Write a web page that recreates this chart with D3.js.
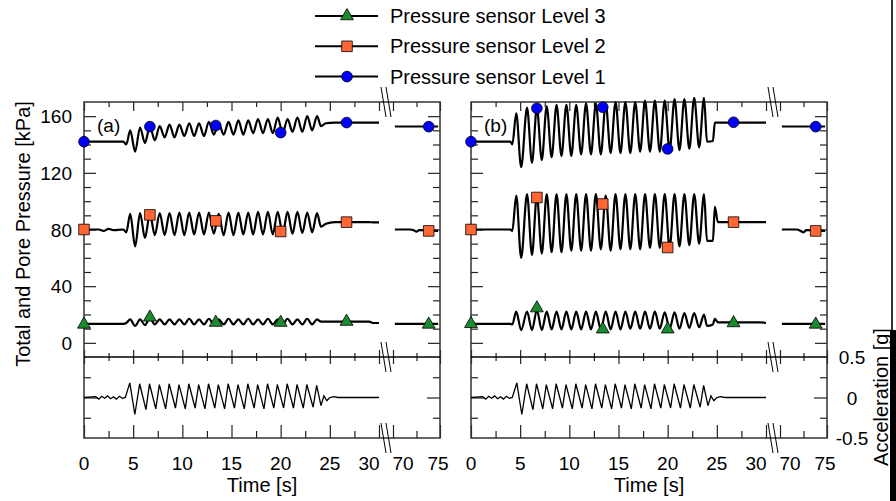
<!DOCTYPE html>
<html>
<head>
<meta charset="utf-8">
<script src="https://cdn.jsdelivr.net/npm/d3@7"></script>
<style>
    body { margin: 0; background: #fff; }
    svg { font-family: "Liberation Sans", Arial, sans-serif; }
</style>
</head>
<body>
<div id="chart"></div>
<script>
// Marker times (s), same for every sensor
var markerTimes = [0, 6.7, 13.4, 20.0, 26.7, 73.8];

// Panel (a) pressure records [kPa]
var timeA = [0, 1.5, 2.0, 2.5, 3.0, 4.0, 4.3, 4.7, 5.2, 5.7, 6.2, 6.7, 7.2, 7.7, 8.2, 8.7, 9.2, 9.7, 10.2, 10.7,
    11.2, 11.7, 12.2, 12.7, 13.2, 13.7, 14.2, 14.7, 15.2, 15.7, 16.2, 16.7, 17.2, 17.7, 18.2, 18.7, 19.2, 19.7,
    20.2, 20.7, 21.2, 21.7, 22.2, 22.7, 23.2, 23.7, 24.1, 24.6, 25.5, 29.0, 29.4, 30.0];
var level1A = [142, 142, 142, 142, 142, 142, 140, 150, 135, 152, 141, 153, 143, 153, 145, 154, 145, 154, 146, 155,
    146, 155, 146, 156, 147, 155, 147, 156, 147, 157, 147, 157, 148, 158, 148, 158, 148, 159,
    148, 158, 149, 159, 149, 160, 150, 160, 153, 155, 155.5, 155.5, 155.5, 155.5];
var level2A = [80, 80, 79, 80.5, 79.5, 80, 78, 91, 68, 91.5, 74, 91, 76, 91.5, 76, 91.5, 76, 92, 76, 92,
    76.5, 92, 76.5, 92, 77, 91, 76, 92, 76, 92, 76.5, 92, 76.5, 92.5, 76.5, 92.5, 76.5, 92.5,
    77, 92.5, 77, 92.5, 77.5, 92, 78, 91.5, 82, 84, 85.2, 85.2, 85, 85];
var level3A = [13.4, 13.4, 13.4, 13.4, 13.4, 13.4, 14, 16.5, 12, 16.5, 12.5, 17.5, 13, 16.5, 13, 16.5, 13, 16.5, 13, 17,
    13, 16.5, 13, 17, 13, 16.5, 13, 17, 13, 16.5, 13, 17, 13, 16.5, 13, 17, 13, 16.5,
    13, 17, 13, 16.5, 13, 17, 13, 16.5, 15, 15, 15, 15, 14, 14];

// Panel (b) pressure records [kPa]
var timeB = [0, 1.5, 2.0, 2.5, 3.0, 4.0, 4.2, 4.6, 5.1, 5.7, 6.2, 6.7, 7.2, 7.7, 8.2, 8.7, 9.2, 9.7, 10.2, 10.7,
    11.2, 11.7, 12.2, 12.7, 13.2, 13.7, 14.2, 14.7, 15.2, 15.7, 16.2, 16.7, 17.2, 17.7, 18.2, 18.7, 19.2, 19.7,
    20.2, 20.7, 21.2, 21.7, 22.2, 22.7, 23.2, 23.7, 24.0, 24.6, 24.8, 25.1, 29.4, 30.0];
var level1B = [142, 142, 142, 142, 142, 142, 140, 162, 124, 166, 127, 166, 129, 167, 131, 168, 132, 168, 132, 168,
    133, 169, 133, 169, 133, 169, 134, 170, 134, 170, 134, 170, 135, 171, 135, 171, 135, 171,
    136, 172, 136, 172, 137, 173, 138, 173, 142, 142.5, 155.5, 155.5, 155.5, 155.5];
var level2B = [80, 80, 80, 80, 80, 80, 79, 104, 60, 105, 62, 104, 63, 105, 64, 105, 64, 105, 65, 105,
    65, 105, 65, 105, 66, 104, 65, 105, 66, 105, 66, 105, 66, 105, 67, 105, 67, 105,
    67, 105, 68, 105, 69, 105, 70, 105, 72, 72, 96, 85.2, 85.2, 85.2];
var level3B = [13.4, 13.4, 13.4, 13.4, 13.4, 13.4, 13, 22, 9, 22, 9, 23, 9, 22, 9.5, 22, 9.5, 22, 9.5, 22,
    9.5, 22, 9.5, 22, 9.5, 22, 9.5, 22, 9.5, 22, 10, 22, 10, 22, 10, 22, 10, 21.5,
    10, 21.5, 10, 21, 10.5, 21, 11, 20, 12, 13, 17, 14.5, 14.5, 14];

// Records after the axis break (70-75 s)
var timeLate = [70.2, 71.8, 72.2, 72.5, 72.8, 74.8];
var level1Late = [152.7, 152.7, 152.7, 152.7, 152.7, 152.7];
var level2LateA = [80, 80, 79.5, 78.5, 79.5, 79];
var level2LateB = [80, 80, 79, 78, 79.5, 79];
var level3Late = [13.4, 13.4, 13.4, 13.4, 13.4, 13.4];

// Marker values [kPa]
var marker1A = [142, 152.6, 153.4, 148.4, 155.5, 152.6];
var marker2A = [80, 90.3, 86.1, 78.6, 85.2, 79];
var marker3A = [13, 18, 14.3, 14.3, 15, 13];
var marker1B = [142, 165.6, 166.3, 136.9, 155.7, 152.6];
var marker2B = [80, 102.6, 98, 67.3, 85.2, 79];
var marker3B = [13.4, 24.5, 9.6, 9.6, 14, 13];

// Base acceleration [g]
var accelTime = [0, 1.2, 1.5, 1.8, 2.1, 2.4, 2.7, 3.0, 3.3, 3.6, 3.9, 4.2, 4.66, 5.17,
    5.66, 6.3, 6.66, 7.3, 7.66, 8.3, 8.66, 9.3, 9.66, 10.3, 10.66, 11.3, 11.66, 12.3, 12.66, 13.3,
    13.66, 14.3, 14.66, 15.3, 15.66, 16.3, 16.66, 17.3, 17.66, 18.3, 18.66, 19.3, 19.66, 20.3,
    20.66, 21.3, 21.66, 22.3, 22.66, 23.3, 23.66, 24.1, 24.4, 24.7, 25.0, 25.4, 25.8, 26.2, 30.0];
var accelValue = [0, 0.01, -0.02, 0.015, -0.01, 0.02, -0.015, 0.01, -0.02, 0.015, -0.01, 0, 0.18, -0.21,
    0.17, -0.15, 0.17, -0.14, 0.16, -0.14, 0.17, -0.13, 0.16, -0.14, 0.17, -0.13, 0.16, -0.14, 0.17, -0.13,
    0.16, -0.14, 0.17, -0.13, 0.16, -0.14, 0.17, -0.13, 0.16, -0.14, 0.17, -0.13, 0.16, -0.13,
    0.17, -0.13, 0.16, -0.13, 0.16, -0.12, 0.15, -0.1, 0.02, -0.04, 0, 0.01, 0, 0, 0];

// Axis ticks
var xMajorEarly = [0, 5, 10, 15, 20, 25, 30];
var xMinorEarly = [2.5, 7.5, 12.5, 17.5, 22.5, 27.5];
var xMajorLate = [70, 75];
var xMinorLate = [72.5];
var pressMajor = [0, 40, 80, 120, 160];
var pressMinor = [10, 20, 30, 50, 60, 70, 90, 100, 110, 130, 140, 150];
var accelMajor = [0];
var accelMinor = [-0.25, 0.25];
var accelLabels = [0.5, 0, -0.5];

var legendNames = ["Pressure sensor Level 3", "Pressure sensor Level 2", "Pressure sensor Level 1"];

// SVG
var svgWidth = 896;
var svgHeight = 501;
var width = 356;
var pressHeight = 255;
var accelHeight = 81;
var top0 = 102;
var breakX = 303;

var svg = d3.select("#chart")
    .append("svg")
    .attr("width", svgWidth)
    .attr("height", svgHeight);

// Scales (broken time axis)
var xEarly = d3.scaleLinear().domain([0, 30]).range([0, 295]);
var xLate = d3.scaleLinear().domain([70, 75]).range([309, 356]);
var yPress = d3.scaleLinear().domain([-10, 170]).range([pressHeight, 0]);
var yAccel = d3.scaleLinear().domain([-0.5, 0.5]).range([pressHeight + accelHeight, pressHeight]);

function xTime(t) {
    return t > 50 ? xLate(t) : xEarly(t);
}

// Marker styles
var sensors = [
    { symbol: d3.symbolTriangle, size: 72, fill: "#1b8a2f" },
    { symbol: d3.symbolSquare, size: 112, fill: "#ff6633" },
    { symbol: d3.symbolCircle, size: 90, fill: "#0000ff" }
];

// tick helper: axis generator, tick values, length, position
function ticks(g, axisFn, scale, values, size, transform) {
    var a = g.append("g")
        .attr("transform", transform)
        .call(axisFn(scale).tickValues(values).tickSize(size).tickSizeOuter(0).tickFormat(""));
    a.select(".domain").remove();
    a.selectAll(".tick line").attr("stroke", "#222").attr("stroke-width", 1.2);
}

var pressLine = d3.line()
    .x(d => xTime(d.t))
    .y(d => yPress(d.v))
    .curve(d3.curveMonotoneX);

var accelLine = d3.line()
    .x(d => xTime(d.t))
    .y(d => yAccel(d.v));

function zip(ts, vs) {
    return ts.map((t, i) => ({ t: t, v: vs[i] }));
}

var panels = [
    {
        left: 84, tag: "(a)", time: timeA,
        series: [level3A, level2A, level1A],
        late: [level3Late, level2LateA, level1Late],
        markers: [marker3A, marker2A, marker1A]
    },
    {
        left: 471, tag: "(b)", time: timeB,
        series: [level3B, level2B, level1B],
        late: [level3Late, level2LateB, level1Late],
        markers: [marker3B, marker2B, marker1B]
    }
];

panels.forEach(function (p, pi) {
    var g = svg.append("g").attr("transform", `translate(${p.left}, ${top0})`);
    var bottom = pressHeight + accelHeight;

    // time ticks: top (down), divider (both ways), bottom (up)
    [[xEarly, xMajorEarly, xMinorEarly], [xLate, xMajorLate, xMinorLate]].forEach(function (s) {
        ticks(g, d3.axisBottom, s[0], s[1], 9, "translate(0,0)");
        ticks(g, d3.axisBottom, s[0], s[2], 5, "translate(0,0)");
        ticks(g, d3.axisBottom, s[0], s[1], 7, `translate(0,${pressHeight})`);
        ticks(g, d3.axisTop, s[0], s[1], 7, `translate(0,${pressHeight})`);
        ticks(g, d3.axisBottom, s[0], s[2], 4, `translate(0,${pressHeight})`);
        ticks(g, d3.axisTop, s[0], s[2], 4, `translate(0,${pressHeight})`);
        ticks(g, d3.axisTop, s[0], s[1], 13, `translate(0,${bottom})`);
        ticks(g, d3.axisTop, s[0], s[2], 7, `translate(0,${bottom})`);
    });

    // value ticks on both sides, inward
    ticks(g, d3.axisRight, yPress, pressMajor, 12, "translate(0,0)");
    ticks(g, d3.axisRight, yPress, pressMinor, 7, "translate(0,0)");
    ticks(g, d3.axisLeft, yPress, pressMajor, 12, `translate(${width},0)`);
    ticks(g, d3.axisLeft, yPress, pressMinor, 7, `translate(${width},0)`);
    ticks(g, d3.axisRight, yAccel, accelMajor, 13, "translate(0,0)");
    ticks(g, d3.axisRight, yAccel, accelMinor, 7, "translate(0,0)");
    ticks(g, d3.axisLeft, yAccel, accelMajor, 13, `translate(${width},0)`);
    ticks(g, d3.axisLeft, yAccel, accelMinor, 7, `translate(${width},0)`);

    // Frame
    g.append("rect")
        .attr("x", 0).attr("y", 0)
        .attr("width", width).attr("height", bottom)
        .attr("fill", "none")
        .attr("stroke", "#333")
        .attr("stroke-width", 1.5);
    g.append("line")
        .attr("x1", 0).attr("x2", width)
        .attr("y1", pressHeight).attr("y2", pressHeight)
        .attr("stroke", "#000")
        .attr("stroke-width", 1.6);

    // Break marks
    [0, pressHeight, bottom].forEach(function (yb) {
        [-6, -1].forEach(function (dx) {
            g.append("line")
                .attr("x1", breakX + dx).attr("y1", yb - 15)
                .attr("x2", breakX + dx + 5).attr("y2", yb + 15)
                .attr("stroke", "#000")
                .attr("stroke-width", 1);
        });
    });

    // Pressure records
    p.series.forEach(function (vals, si) {
        g.append("path")
            .attr("d", pressLine(zip(p.time, vals)))
            .attr("fill", "none")
            .attr("stroke", "#000")
            .attr("stroke-width", 2.2);
        g.append("path")
            .attr("d", pressLine(zip(timeLate, p.late[si])))
            .attr("fill", "none")
            .attr("stroke", "#000")
            .attr("stroke-width", 2.2);
    });

    // Acceleration record
    g.append("path")
        .attr("d", accelLine(zip(accelTime, accelValue)))
        .attr("fill", "none")
        .attr("stroke", "#000")
        .attr("stroke-width", 1.3);

    // Markers
    p.markers.forEach(function (vals, si) {
        g.selectAll(".m" + si)
            .data(zip(markerTimes, vals))
            .enter()
            .append("path")
            .attr("class", "m" + si)
            .attr("transform", d => `translate(${xTime(d.t)},${yPress(d.v)})`)
            .attr("d", d3.symbol().type(sensors[si].symbol).size(sensors[si].size))
            .attr("fill", sensors[si].fill)
            .attr("stroke", "#000")
            .attr("stroke-width", 0.8);
    });

    // Panel tag
    g.append("text")
        .attr("x", 13)
        .attr("y", 30)
        .attr("font-size", 19)
        .text(p.tag);

    // Time labels
    var labelTimes = xMajorEarly.concat(xMajorLate);
    g.selectAll(".xlab")
        .data(labelTimes)
        .enter()
        .append("text")
        .attr("class", "xlab")
        .attr("x", d => xTime(d) + (d === 30 ? -10 : d === 70 ? 10 : d === 75 ? -2 : 0))
        .attr("y", bottom + 32)
        .attr("text-anchor", "middle")
        .attr("font-size", 19)
        .text(d => d);

    g.append("text")
        .attr("x", width / 2)
        .attr("y", bottom + 54)
        .attr("text-anchor", "middle")
        .attr("font-size", 20)
        .text("Time [s]");

    if (pi === 0) {
        g.selectAll(".ylab")
            .data(pressMajor)
            .enter()
            .append("text")
            .attr("class", "ylab")
            .attr("x", -12)
            .attr("y", d => yPress(d) + 7)
            .attr("text-anchor", "end")
            .attr("font-size", 19)
            .text(d => d);
    } else {
        g.selectAll(".alab")
            .data(accelLabels)
            .enter()
            .append("text")
            .attr("class", "alab")
            .attr("x", width + 25)
            .attr("y", d => yAccel(d) + 7)
            .attr("text-anchor", "middle")
            .attr("font-size", 19)
            .text(d => d);
    }
});

// Axis titles
svg.append("text")
    .attr("transform", "translate(30, 234) rotate(-90)")
    .attr("text-anchor", "middle")
    .attr("font-size", 20)
    .text("Total and Pore Pressure [kPa]");

svg.append("text")
    .attr("transform", "translate(888, 397) rotate(-90)")
    .attr("text-anchor", "middle")
    .attr("font-size", 20)
    .text("Acceleration [g]");

// Legend
var legend = svg.append("g");
legendNames.forEach(function (name, i) {
    var y = 16 + i * 30.3;
    legend.append("line")
        .attr("x1", 315).attr("x2", 378)
        .attr("y1", y).attr("y2", y)
        .attr("stroke", "#000")
        .attr("stroke-width", 2);
    legend.append("path")
        .attr("transform", `translate(347,${y})`)
        .attr("d", d3.symbol().type(sensors[i].symbol).size(sensors[i].size))
        .attr("fill", sensors[i].fill)
        .attr("stroke", "#000")
        .attr("stroke-width", 0.8);
    legend.append("text")
        .attr("x", 390)
        .attr("y", y + 7)
        .attr("font-size", 20)
        .text(name);
});

// right edge bar of the original figure
svg.append("line")
    .attr("x1", 892).attr("x2", 892)
    .attr("y1", 0).attr("y2", 330)
    .attr("stroke", "#333")
    .attr("stroke-width", 2);
svg.append("rect")
    .attr("x", 890).attr("y", 330)
    .attr("width", 6).attr("height", svgHeight - 330)
    .attr("fill", "#000");
</script>
</body>
</html>
